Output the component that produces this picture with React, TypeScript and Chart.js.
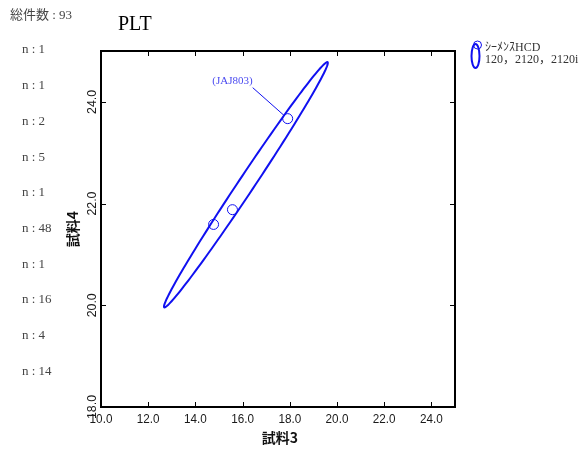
import React, { useEffect, useRef } from 'react';
import { Chart, registerables } from 'chart.js';

Chart.register(...registerables);

const chartTitle = 'PLT';
const totalLabel = '総件数 : 93';
const groupCounts = [1, 1, 2, 5, 1, 48, 1, 16, 4, 14];
const xTitle = '試料3';
const yTitle = '試料4';
const xTickValues = [10, 12, 14, 16, 18, 20, 22, 24];
const yTickValues = [18, 20, 22, 24];
const xRange = [10, 25];
const yRange = [18, 25];
const pointsX = [14.77, 15.57, 17.91];
const pointsY = [21.59, 21.88, 23.67];
const pointLabels = ['', '', '(JAJ803)'];
// ellipse: major-axis endpoints (data) and minor semi-axis vector (data)
const ellipseEndA = [12.68, 19.96];
const ellipseEndB = [19.6, 24.78];
const ellipseMinorVec = [0.28, -0.086];
const legendLines = ['ｼｰﾒﾝｽHCD', '120，2120，2120i'];

const BLUE = '#1010f0';

const drawPlugin = {
  id: 'customDraw',
  beforeDatasetsDraw(chart: any) {
    const { ctx, scales } = chart;
    const xs = scales.x;
    const ys = scales.y;
    const px = (v: number) => xs.getPixelForValue(v);
    const py = (v: number) => ys.getPixelForValue(v);
    const cx = (ellipseEndA[0] + ellipseEndB[0]) / 2;
    const cy = (ellipseEndA[1] + ellipseEndB[1]) / 2;
    const pcx = px(cx), pcy = py(cy);
    const mx = px(ellipseEndB[0]) - pcx, my = py(ellipseEndB[1]) - pcy;
    const nx = px(cx + ellipseMinorVec[0]) - pcx, ny = py(cy + ellipseMinorVec[1]) - pcy;
    ctx.save();
    ctx.strokeStyle = BLUE;
    ctx.lineWidth = 2;
    ctx.beginPath();
    for (let i = 0; i <= 160; i++) {
      const t = (i / 160) * Math.PI * 2;
      const x = pcx + Math.cos(t) * mx + Math.sin(t) * nx;
      const y = pcy + Math.cos(t) * my + Math.sin(t) * ny;
      if (i === 0) ctx.moveTo(x, y); else ctx.lineTo(x, y);
    }
    ctx.closePath();
    ctx.stroke();
    ctx.restore();
  },
  afterDraw(chart: any) {
    const { ctx, chartArea, scales } = chart;
    const { left, right, top, bottom } = chartArea;
    const xs = scales.x;
    const ys = scales.y;
    ctx.save();
    ctx.strokeStyle = '#000';
    ctx.lineWidth = 2;
    ctx.strokeRect(left, top, right - left, bottom - top);
    ctx.lineWidth = 1;
    ctx.beginPath();
    xTickValues.forEach((v) => {
      const x = Math.round(xs.getPixelForValue(v)) + 0.5;
      ctx.moveTo(x, bottom); ctx.lineTo(x, bottom - 5);
      ctx.moveTo(x, top); ctx.lineTo(x, top + 5);
    });
    yTickValues.forEach((v) => {
      const y = Math.round(ys.getPixelForValue(v)) + 0.5;
      ctx.moveTo(left, y); ctx.lineTo(left + 5, y);
      ctx.moveTo(right, y); ctx.lineTo(right - 5, y);
    });
    ctx.stroke();
    // tick labels
    ctx.fillStyle = '#1a1a1a';
    ctx.font = '13px "Liberation Sans", Arial, sans-serif';
    ctx.textAlign = 'center';
    ctx.textBaseline = 'middle';
    xTickValues.forEach((v) => {
      ctx.save();
      ctx.translate(xs.getPixelForValue(v), bottom + 12);
      ctx.scale(0.9, 1);
      ctx.fillText(v.toFixed(1), 0, 0);
      ctx.restore();
    });
    yTickValues.forEach((v) => {
      ctx.save();
      ctx.translate(left - 9, ys.getPixelForValue(v));
      ctx.rotate(-Math.PI / 2);
      ctx.scale(0.95, 1);
      ctx.fillText(v.toFixed(1), 0, 0);
      ctx.restore();
    });
    // axis titles
    ctx.fillStyle = '#111';
    ctx.font = 'bold 14px "Noto Sans CJK JP", sans-serif';
    ctx.fillText(xTitle, (left + right) / 2 + 2, bottom + 31);
    ctx.save();
    ctx.translate(left - 28, (top + bottom) / 2);
    ctx.rotate(-Math.PI / 2);
    ctx.fillText(yTitle, 0, 0);
    ctx.restore();
    // point annotation
    pointLabels.forEach((lab, i) => {
      if (!lab) return;
      const ppx = xs.getPixelForValue(pointsX[i]);
      const ppy = ys.getPixelForValue(pointsY[i]);
      ctx.fillStyle = '#4a4af0';
      ctx.font = '11px "Liberation Serif", serif';
      ctx.textAlign = 'right';
      ctx.fillText(lab, ppx - 35, ppy - 38);
      const sx = ppx - 35, sy = ppy - 31;
      const dx = ppx - sx, dy = ppy - sy;
      const d = Math.hypot(dx, dy);
      ctx.strokeStyle = BLUE;
      ctx.lineWidth = 1;
      ctx.beginPath();
      ctx.moveTo(sx, sy);
      ctx.lineTo(ppx - (dx / d) * 5, ppy - (dy / d) * 5);
      ctx.stroke();
    });
    // title
    ctx.fillStyle = '#000';
    ctx.textAlign = 'left';
    ctx.font = '20px "Liberation Serif", serif';
    ctx.fillText(chartTitle, 118, 25);
    // left labels
    ctx.fillStyle = '#444';
    ctx.font = '13px "Liberation Serif", "Noto Sans CJK JP", serif';
    ctx.fillText(totalLabel, 10, 16);
    groupCounts.forEach((n, i) => {
      ctx.fillText('n : ' + n, 22, 50 + i * 35.7);
    });
    // legend
    ctx.strokeStyle = BLUE;
    ctx.lineWidth = 2;
    ctx.beginPath();
    ctx.ellipse(475.5, 56, 4, 12, 0, 0, Math.PI * 2);
    ctx.stroke();
    ctx.lineWidth = 1;
    ctx.beginPath();
    ctx.arc(477.5, 45, 4, 0, Math.PI * 2);
    ctx.stroke();
    ctx.fillStyle = '#333';
    ctx.font = '12px "Liberation Serif", "Noto Sans CJK JP", serif';
    legendLines.forEach((t, i) => ctx.fillText(t, 485, 47.5 + i * 12.5));
    ctx.restore();
  },
};

export default function App() {
  const ref = useRef<HTMLCanvasElement>(null);
  useEffect(() => {
    if (!ref.current) return;
    const chart = new Chart(ref.current, {
      type: 'scatter',
      data: {
        datasets: [
          {
            data: pointsX.map((x, i) => ({ x, y: pointsY[i] })),
            borderColor: BLUE,
            backgroundColor: 'rgba(0,0,0,0)',
            borderWidth: 1,
            pointRadius: 5,
            pointHoverRadius: 5,
          },
        ],
      },
      options: {
        responsive: false,
        animation: false,
        layout: { padding: { top: 51, right: 129, left: 0, bottom: 0 } },
        plugins: { legend: { display: false }, tooltip: { enabled: false } },
        scales: {
          x: {
            type: 'linear',
            min: xRange[0],
            max: xRange[1],
            ticks: { display: false },
            grid: { display: false },
            border: { display: false },
            afterFit: (s: any) => { s.height = 46; },
          },
          y: {
            type: 'linear',
            min: yRange[0],
            max: yRange[1],
            ticks: { display: false },
            grid: { display: false },
            border: { display: false },
            afterFit: (s: any) => { s.width = 101; },
          },
        },
      },
      plugins: [drawPlugin],
    });
    return () => chart.destroy();
  }, []);
  return (
    <div style={{ position: 'absolute', left: 0, top: 0, width: 584, height: 453 }}>
      <canvas ref={ref} width={584} height={453} style={{ width: 584, height: 453 }} />
    </div>
  );
}
